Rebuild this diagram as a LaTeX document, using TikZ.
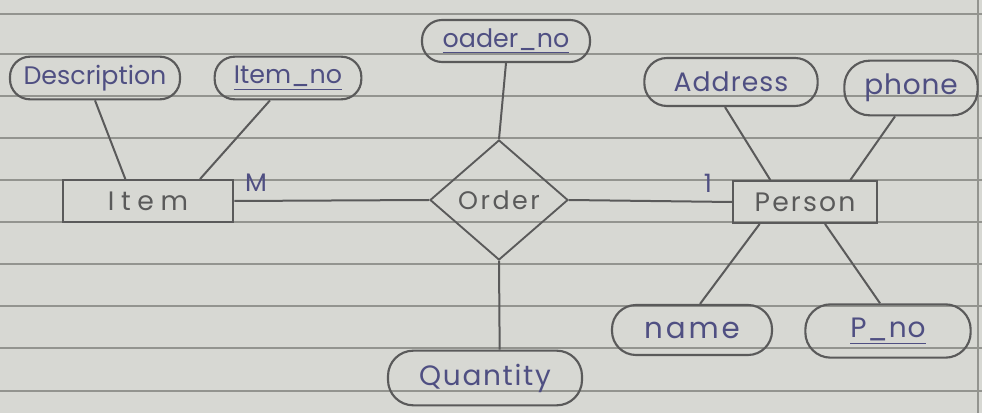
\documentclass[tikz,border=0pt]{standalone}
\usepackage{fontspec}
\setmainfont{Poppins}
\usetikzlibrary{shapes.geometric}
\definecolor{paper}{HTML}{D7D8D3}
\definecolor{rule}{HTML}{93948F}
\definecolor{pencil}{HTML}{5A5A5A}
\definecolor{ink}{HTML}{4F4F82}
\newcommand{\fsz}[2]{\fontsize{#1}{#1}\selectfont\addfontfeature{LetterSpace=#2}}
\tikzset{
  attr/.style={draw=pencil, line width=1.6pt, rounded corners=15pt, inner sep=0pt,
    text=ink, font=\fsz{19}{0}},
  entity/.style={draw=pencil, line width=1.4pt, inner sep=0pt,
    text=pencil},
  rel/.style={draw=pencil, line width=1.4pt, diamond, inner sep=0pt,
    minimum width=103.5pt, minimum height=90pt, text=pencil, font=\fsz{19}{10}},
  link/.style={draw=pencil, line width=1.5pt},
  card/.style={text=ink, font=\fsz{19}{0}},
  ruling/.style={draw=rule, line width=0.9pt}
}
\begin{document}
\begin{tikzpicture}[x=0.75pt, y=-0.75pt]
\fill[paper] (0,0) rectangle (982,413);
\useasboundingbox (0,0) rectangle (982,413);
% ruled paper
\foreach \yy in {14,54,96,138,180,222,264,306,348,391}
  \draw[ruling] (0,\yy) -- (982,\yy);
\draw[ruling] (978,0) -- (978,413);

% attributes
\node[attr, minimum width=126pt, minimum height=31.5pt] (orderno) at (506,41) {\underline{oader\_no}};
\node[attr, minimum width=127.5pt, minimum height=32pt] (desc) at (95,78) {Description};
\node[attr, minimum width=110pt, minimum height=32pt] (itemno) at (288,78) {\underline{Item\_no}};
\node[attr, minimum width=130pt, minimum height=36pt, rounded corners=17pt, font=\fsz{20}{4}] (address) at (731,82) {Address};
\node[attr, minimum width=100pt, minimum height=41pt, rounded corners=19pt, font=\fsz{21}{3}] (phone) at (911,88) {phone};
\node[attr, minimum width=120pt, minimum height=37.5pt, rounded corners=18pt, font=\fsz{22}{10}] (name) at (692,330) {name};
\node[attr, minimum width=124pt, minimum height=40pt, rounded corners=19pt, font=\fsz{21}{3}] (pno) at (888,331) {\underline{P\_no}};
\node[attr, minimum width=145.5pt, minimum height=41pt, rounded corners=19pt, font=\fsz{21}{6}] (qty) at (485,378) {Quantity};

% entities and relationship
\node[entity, minimum width=128pt, minimum height=31.5pt, font=\fsz{20}{25}] (item) at (148,201) {Item};
\node[entity, minimum width=108pt, minimum height=31.5pt, font=\fsz{20}{8}] (person) at (805,202) {Person};
\node[rel] (order) at (499,200) {Order};

% connectors
\draw[link] (desc.south) -- ([xshift=-17pt]item.north);
\draw[link] ([xshift=-13.5pt]itemno.south) -- ([xshift=39pt]item.north);
\draw[link] (orderno.south) -- (order.north);
\draw[link] ([xshift=-4.5pt]address.south) -- ([xshift=-26pt]person.north);
\draw[link] ([xshift=-12pt]phone.south) -- ([xshift=34pt]person.north);
\draw[link] ([xshift=-34pt]person.south) -- ([xshift=6pt]name.north);
\draw[link] ([xshift=15pt]person.south) -- ([xshift=-6pt]pno.north);
\draw[link] (order.south) -- ([xshift=11pt]qty.north);
\draw[link] (item.east) -- (order.west);
\draw[link] (order.east) -- (person.west);

% cardinalities
\node[card] (m) at (256,183) {M};
\node[card] (one) at (708,183) {1};
\end{tikzpicture}
\end{document}
